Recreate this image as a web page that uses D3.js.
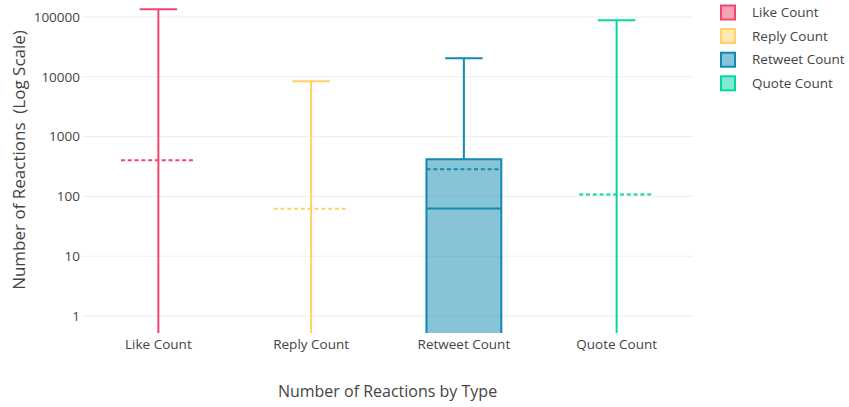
<!DOCTYPE html>
<html>
<head>
<meta charset="utf-8">
<script src="https://cdn.jsdelivr.net/npm/d3@7"></script>
<style>
  body { margin: 0; background: #fff; }
  text { font-family: "Open Sans", sans-serif; fill: #444; }
</style>
</head>
<body>
<div id="chart"></div>
<script>
var categories = ['Like Count', 'Reply Count', 'Retweet Count', 'Quote Count'];
var colors = ['#EF476F', '#FFD166', '#118AB2', '#06D6A0'];
// box statistics (0 = below the visible log range)
var minVals = [0, 0, 0, 0];
var q1Vals = [0, 0, 0, 0];
var medianVals = [0, 0, 63, 0];
var q3Vals = [0, 0, 418, 0];
var maxVals = [134000, 8400, 20400, 88000];
var meanVals = [402, 62, 284, 108];
var yTicks = [1, 10, 100, 1000, 10000, 100000];

var W = 849, H = 407;
var margin = { top: 0, left: 82, right: 156, bottom: 74 };
var x0 = margin.left, x1 = W - margin.right, y0 = margin.top, y1 = H - margin.bottom;

var svg = d3.select('#chart').append('svg').attr('width', W).attr('height', H);

var xScale = d3.scaleBand().domain(categories).range([x0, x1]).padding(0);
var yScale = d3.scaleLog().domain([0.52, 192000]).range([y1, y0]);

function yPos(v) { return v > 0 ? yScale(v) : y1 + 20; }

// grid
svg.append('g').selectAll('line').data(yTicks).enter().append('line')
  .attr('x1', x0).attr('x2', x1)
  .attr('y1', function (d) { return yScale(d); }).attr('y2', function (d) { return yScale(d); })
  .style('stroke', '#eee').style('stroke-width', 1);

svg.append('clipPath').attr('id', 'plotclip').append('rect')
  .attr('x', x0).attr('y', y0).attr('width', x1 - x0).attr('height', y1 - y0);

var boxW = xScale.bandwidth() * 0.49;
var capW = boxW / 2;

var data = categories.map(function (c, i) {
  return { name: c, color: colors[i], min: minVals[i], q1: q1Vals[i], med: medianVals[i], q3: q3Vals[i], max: maxVals[i], mean: meanVals[i] };
});

var boxes = svg.append('g').attr('clip-path', 'url(#plotclip)')
  .selectAll('.box').data(data).enter().append('g').classed('box', true)
  .attr('transform', function (d) { return 'translate(' + (xScale(d.name) + xScale.bandwidth() / 2) + ',0)'; });

boxes.append('rect')
  .attr('x', -boxW / 2).attr('width', boxW)
  .attr('y', function (d) { return yPos(d.q3); })
  .attr('height', function (d) { return Math.max(0, yPos(d.q1) - yPos(d.q3)); })
  .style('fill', function (d) { return d.color; }).style('fill-opacity', 0.5)
  .style('stroke', function (d) { return d.color; }).style('stroke-width', 2);

boxes.append('line').attr('x1', -boxW / 2).attr('x2', boxW / 2)
  .attr('y1', function (d) { return yPos(d.med); }).attr('y2', function (d) { return yPos(d.med); })
  .style('stroke', function (d) { return d.color; }).style('stroke-width', 2);

// whiskers
boxes.append('line').attr('x1', 0).attr('x2', 0)
  .attr('y1', function (d) { return yPos(d.q3); }).attr('y2', function (d) { return yPos(d.max); })
  .style('stroke', function (d) { return d.color; }).style('stroke-width', 2);
boxes.append('line').attr('x1', -capW / 2).attr('x2', capW / 2)
  .attr('y1', function (d) { return yPos(d.max); }).attr('y2', function (d) { return yPos(d.max); })
  .style('stroke', function (d) { return d.color; }).style('stroke-width', 2);

// mean
boxes.append('line').attr('x1', -boxW / 2).attr('x2', boxW / 2)
  .attr('y1', function (d) { return yPos(d.mean); }).attr('y2', function (d) { return yPos(d.mean); })
  .style('stroke', function (d) { return d.color; }).style('stroke-width', 2)
  .style('stroke-dasharray', '4,2.8');

// axes
var yAxis = d3.axisLeft(yScale).tickValues(yTicks).tickFormat(d3.format('d')).tickSize(0).tickPadding(2);
var gy = svg.append('g').attr('transform', 'translate(' + x0 + ',0)').call(yAxis);
gy.select('.domain').remove();
gy.selectAll('text').style('font-size', '13.5px').style('fill', '#444').style('font-family', '"Open Sans", sans-serif');

var xAxis = d3.axisBottom(xScale).tickSize(0).tickPadding(6);
var gx = svg.append('g').attr('transform', 'translate(0,' + y1 + ')').call(xAxis);
gx.select('.domain').remove();
gx.selectAll('text').style('font-size', '13.5px').style('fill', '#444').style('font-family', '"Open Sans", sans-serif');

svg.append('text').text('Number of Reactions by Type')
  .attr('x', (x0 + x1) / 2).attr('y', 397).attr('text-anchor', 'middle')
  .style('font-size', '16px');

svg.append('text').text('Number of Reactions\u00a0 (Log Scale)')
  .attr('transform', 'translate(25,' + 160 + ') rotate(-90)').attr('text-anchor', 'middle')
  .style('font-size', '17px');

// legend
var legend = svg.append('g').selectAll('.leg').data(data).enter().append('g').classed('leg', true)
  .attr('transform', function (d, i) { return 'translate(721,' + (12.5 + i * 23.6) + ')'; });
legend.append('rect').attr('x', 0).attr('y', -7).attr('width', 14).attr('height', 14)
  .style('fill', function (d) { return d.color; }).style('fill-opacity', 0.5)
  .style('stroke', function (d) { return d.color; }).style('stroke-width', 2);
legend.append('text').text(function (d) { return d.name; })
  .attr('x', 31).attr('y', 0).attr('dy', '0.35em').style('font-size', '13.5px');
</script>
</body>
</html>
